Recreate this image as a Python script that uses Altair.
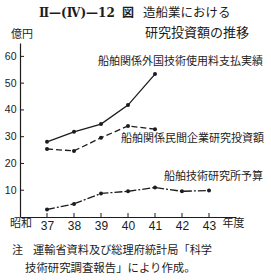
import altair as alt
import pandas as pd

# ---- data ----
years = [37, 38, 39, 40, 41, 42, 43]
foreign_years = [37, 38, 39, 40, 41]
foreign = [28.1, 31.8, 34.7, 41.8, 53.4]        # 船舶関係外国技術使用料支払実績
private_years = [37, 38, 39, 40, 41]
private = [25.4, 24.7, 29.6, 34.0, 32.8]        # 船舶関係民間企業研究投資額
institute = [2.8, 4.9, 8.8, 9.6, 11.0, 9.6, 9.9]  # 船舶技術研究所予算
y_ticks = [10, 20, 30, 40, 50, 60]
x_ticks = [37, 38, 39, 40, 41, 42, 43]

label_foreign = "船舶関係外国技術使用料支払実績"
label_private = "船舶関係民間企業研究投資額"
label_institute = "船舶技術研究所予算"
title_a = "Ⅱ—(Ⅳ)—12"
title_fig = "図"
title_b = "造船業における"
title_c = "研究投資額の推移"
unit = "億円"
x_pre = "昭和"
x_post = "年度"
note_a = "注"
note_b = "運輸省資料及び総理府統計局「科学"
note_c = "技術研究調査報告」により作成。"

# ---- styling ----
INK = "#1c1c1c"
JP = "Noto Sans CJK JP"
NUM = "Liberation Sans"
W, H = 216, 174
LEFT, TOP = 20, 43

xscale = alt.Scale(domain=[36, 44], nice=False, zero=False)
yscale = alt.Scale(domain=[0, 65], nice=False)
xaxis = alt.Axis(values=x_ticks, title=None, grid=False, ticks=False, labelPadding=3,
                 labelFontSize=12, labelFont=NUM, labelColor=INK,
                 domainColor=INK, domainWidth=1.2, labelFlush=False)
yaxis = alt.Axis(values=y_ticks, title=None, grid=False, ticks=False, labelPadding=4,
                 labelFontSize=10.5, labelFont=NUM, labelColor=INK,
                 domainColor=INK, domainWidth=1.2, labelFlush=False)


def series(xs, vs, dash=None):
    df = pd.DataFrame({"year": xs, "value": vs})
    base = alt.Chart(df).encode(
        x=alt.X("year:Q", scale=xscale, axis=xaxis),
        y=alt.Y("value:Q", scale=yscale, axis=yaxis),
    )
    kw = dict(color=INK, strokeWidth=1.3)
    if dash is not None:
        kw["strokeDash"] = dash
    return base.mark_line(**kw) + base.mark_point(filled=True, size=16, color=INK, opacity=1)


def text(t, x, y, size=11, align="left", font=JP, weight="normal"):
    return alt.Chart(pd.DataFrame({"k": [0]})).mark_text(
        align=align, baseline="middle", fontSize=size, font=font,
        fontWeight=weight, color=INK
    ).encode(x=alt.value(x), y=alt.value(y), text=alt.value(t))


ytick_df = pd.DataFrame({"v": y_ticks})
ytick = alt.Chart(ytick_df).mark_rule(color=INK, strokeWidth=1).encode(
    y=alt.Y("v:Q", scale=yscale, axis=yaxis), x=alt.value(0), x2=alt.value(4))
xtick_df = pd.DataFrame({"v": x_ticks})
xtick = alt.Chart(xtick_df).mark_rule(color=INK, strokeWidth=1).encode(
    x=alt.X("v:Q", scale=xscale, axis=xaxis), y=alt.value(H), y2=alt.value(H - 4))

layers = [
    ytick, xtick,
    series(foreign_years, foreign),
    series(private_years, private, [6, 3]),
    series(years, institute, [8, 2, 2, 2]),
    text(label_foreign, 243, 19, align="right"),
    text(label_private, 244, 96, align="right"),
    text(label_institute, 243, 134, align="right"),
    text(title_a, 19, -30.5, size=12, font="DejaVu Serif", weight="bold"),
    text(title_fig, 108, -30.5, size=12, align="center", weight="bold"),
    text(title_b, 123, -30.5, size=12.5),
    text(title_c, 125, -10.5, size=13),
    text(unit, 2, -8, size=11, align="center"),
    text(x_pre, 1, 181, size=11, align="center"),
    text(x_post, 213.5, 181, size=11, align="center"),
    text(note_a, -8, 208, size=11),
    text(note_b, 13, 208, size=11.2),
    text(note_c, 5, 226, size=11.4),
]

chart = alt.layer(*layers).properties(
    width=W, height=H,
    autosize=alt.AutoSizeParams(type="none"),
    padding={"left": LEFT, "top": TOP, "right": 271 - LEFT - W, "bottom": 280 - TOP - H},
    background="white",
).configure_view(stroke=None)

chart.save("out.html", embed_options={"renderer": "svg", "actions": False})
